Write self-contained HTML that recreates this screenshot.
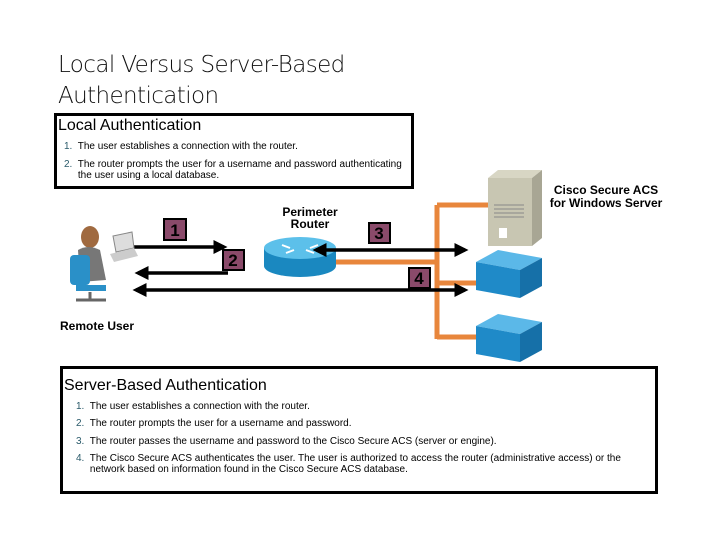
<!DOCTYPE html>
<html><head><meta charset="utf-8"><style>
body{margin:0;width:720px;height:540px;background:#fff;position:relative;overflow:hidden;font-family:"Liberation Sans",sans-serif}
.a{position:absolute;white-space:nowrap}
.t{font-size:23px;line-height:31px;color:#111;left:58px;top:50px;font-family:"DejaVu Sans","Liberation Sans",sans-serif;font-weight:200;letter-spacing:-0.6px}
.box{position:absolute;border:3px solid #000;box-sizing:border-box}
.s{font-size:10px;color:#000;line-height:11px}
.n{color:#2a5a6a}
.h{font-size:16px}
</style></head><body>
<div class="a t">Local Versus Server-Based<br>Authentication</div>
<div class="box" style="left:54px;top:113px;width:360px;height:76px"></div>
<div class="a h" style="left:58px;top:117px">Local Authentication</div>
<div class="a s" style="left:64px;top:141px"><span class="n">1.</span>&nbsp; The user establishes a connection with the router.</div>
<div class="a s" style="left:64px;top:159px"><span class="n">2.</span>&nbsp; The router prompts the user for a username and password authenticating<br>&nbsp;&nbsp;&nbsp;&nbsp; the user using a local database.</div>

<div class="box" style="left:60px;top:366px;width:598px;height:128px"></div>
<div class="a h" style="left:64px;top:377px">Server-Based Authentication</div>
<div class="a s" style="left:76px;top:401px"><span class="n">1.</span>&nbsp; The user establishes a connection with the router.</div>
<div class="a s" style="left:76px;top:418px"><span class="n">2.</span>&nbsp; The router prompts the user for a username and password.</div>
<div class="a s" style="left:76px;top:436px"><span class="n">3.</span>&nbsp; The router passes the username and password to the Cisco Secure ACS (server or engine).</div>
<div class="a s" style="left:76px;top:453px"><span class="n">4.</span>&nbsp; The Cisco Secure ACS authenticates the user. The user is authorized to access the router (administrative access) or the<br>&nbsp;&nbsp;&nbsp;&nbsp; network based on information found in the Cisco Secure ACS database.</div>

<svg class="a" style="left:0;top:0" width="720" height="540">
<defs><marker id="ar" markerWidth="4" markerHeight="4" refX="3" refY="2" orient="auto-start-reverse"><path d="M0,0L4,2L0,4z" fill="#000"/></marker></defs>
<g stroke="#e8863c" stroke-width="5" fill="none">
<path d="M437,205V339"/><path d="M437,205H492"/><path d="M330,262H437"/><path d="M437,283H478"/><path d="M437,337H478"/>
</g>
<polygon points="488,178 498,170 542,170 532,178" fill="#d8d6c4"/>
<polygon points="532,178 542,170 542,238 532,246" fill="#a8a694"/>
<rect x="488" y="178" width="44" height="68" fill="#c8c6b2"/>
<g stroke="#888" stroke-width="1"><path d="M494,205h30M494,209h30M494,213h30M494,217h30"/></g>
<rect x="499" y="228" width="8" height="10" fill="#fff"/>
<g><polygon points="476,262 498,250 542,258 520,270" fill="#5bb8e8"/><polygon points="476,262 520,270 520,298 476,290" fill="#1f8ac8"/><polygon points="520,270 542,258 542,286 520,298" fill="#1670a8"/></g>
<g><polygon points="476,326 498,314 542,322 520,334" fill="#5bb8e8"/><polygon points="476,326 520,334 520,362 476,354" fill="#1f8ac8"/><polygon points="520,334 542,322 542,350 520,362" fill="#1670a8"/></g>
<rect x="264" y="248" width="72" height="18" fill="#1a88c0"/>
<ellipse cx="300" cy="266" rx="36" ry="11" fill="#1a88c0"/>
<ellipse cx="300" cy="248" rx="36" ry="11" fill="#5cc0ea"/>
<g stroke="#fff" stroke-width="2"><path d="M282,245l8,3M318,245l-8,3M286,253l8,-3M314,253l-8,-3"/></g>
<g stroke="#000" stroke-width="3.5">
<path d="M134,247H224" marker-end="url(#ar)"/>
<path d="M228,273H138" marker-end="url(#ar)"/>
<path d="M316,250H465" marker-start="url(#ar)" marker-end="url(#ar)"/>
<path d="M136,290H465" marker-start="url(#ar)" marker-end="url(#ar)"/>
</g>
<g fill="#8a4a6a" stroke="#000" stroke-width="2">
<rect x="164" y="219" width="22" height="21"/><rect x="223" y="250" width="21" height="20"/><rect x="369" y="223" width="21" height="20"/><rect x="409" y="268" width="21" height="20"/>
</g>
<g font-family="Liberation Sans" font-weight="bold" font-size="17" fill="#000" text-anchor="middle">
<text x="175" y="236">1</text><text x="233" y="266">2</text><text x="379" y="239">3</text><text x="419" y="284">4</text>
</g>
<ellipse cx="90" cy="237" rx="9" ry="11" fill="#a06a40"/>
<path d="M78,250 Q88,244 100,250 L106,280 L80,282z" fill="#777"/>
<rect x="70" y="255" width="20" height="30" rx="4" fill="#2a90c8"/>
<rect x="76" y="285" width="30" height="6" fill="#2a90c8"/>
<path d="M90,292v8M76,300h30" stroke="#666" stroke-width="3"/>
<polygon points="113,236 132,232 134,248 116,252" fill="#ddd" stroke="#888"/>
<polygon points="110,254 134,248 138,256 114,262" fill="#ccc"/>
</svg>
<div class="a" style="left:270px;top:206px;width:80px;text-align:center;font-size:12px;font-weight:bold;line-height:12px">Perimeter<br>Router</div>
<div class="a" style="left:546px;top:184px;width:120px;text-align:center;font-size:12px;font-weight:bold;line-height:13px">Cisco Secure ACS<br>for Windows Server</div>
<div class="a" style="left:60px;top:319px;font-size:12px;font-weight:bold">Remote User</div>
</body></html>
